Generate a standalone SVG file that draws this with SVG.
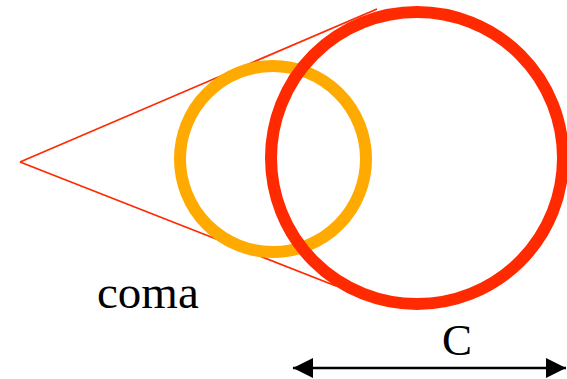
<svg xmlns="http://www.w3.org/2000/svg" width="567" height="379" viewBox="0 0 567 379">
<defs>
<style>
.ln{stroke:#ff2a00;stroke-width:1.8;fill:none}
.t{font-family:"Liberation Serif",serif;fill:#000}
</style>
<marker id="ah" viewBox="0 0 10 10" refX="10" refY="5" markerWidth="20" markerHeight="20" markerUnits="userSpaceOnUse" orient="auto-start-reverse">
<path d="M0,0 L10,5 L0,10 z" fill="#000"/>
</marker>
</defs>
<rect width="567" height="379" fill="#fff"/>
<g id="cone">
<line class="ln" x1="20" y1="162" x2="377" y2="9"/>
<line class="ln" x1="20" y1="162" x2="336" y2="286"/>
</g>
<g id="small-circle"><circle cx="273" cy="159" r="93" fill="none" stroke="#ffaa00" stroke-width="12"/></g>
<g id="big-circle"><circle cx="417" cy="158" r="146" fill="none" stroke="#ff2a00" stroke-width="12"/></g>
<g id="connectors">
<line x1="293" y1="368" x2="566" y2="368" stroke="#000" stroke-width="2.5" marker-start="url(#ah)" marker-end="url(#ah)"/>
</g>
<text class="t" x="97" y="308" font-size="47">coma</text>
<text class="t" x="442" y="355" font-size="45">C</text>
</svg>
